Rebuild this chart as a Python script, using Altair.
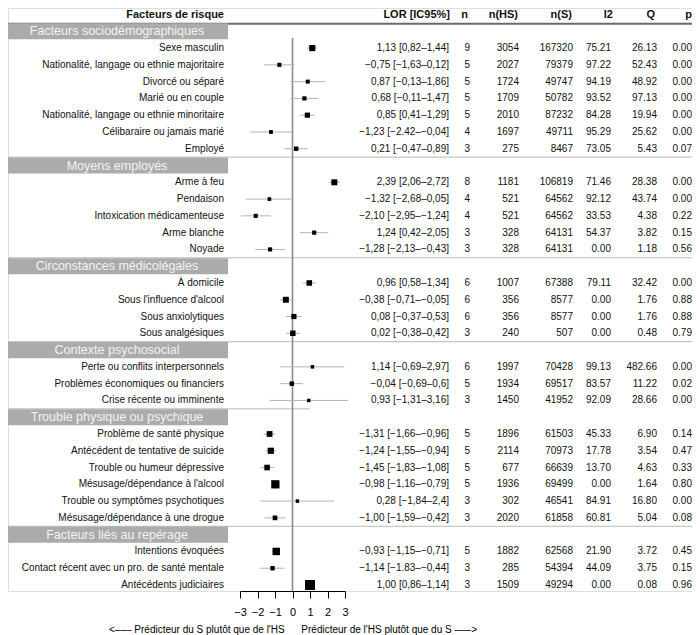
import altair as alt
import pandas as pd

# ---------------- data ----------------
groups = [
    "Facteurs sociodémographiques",
    "Moyens employés",
    "Circonstances médicolégales",
    "Contexte psychosocial",
    "Trouble physique ou psychique",
    "Facteurs liés au repérage",
]
group_sizes = [7, 5, 4, 3, 6, 3]

factors = [
    "Sexe masculin",
    "Nationalité, langage ou ethnie majoritaire",
    "Divorcé ou séparé",
    "Marié ou en couple",
    "Nationalité, langage ou ethnie minoritaire",
    "Célibaraire ou jamais marié",
    "Employé",
    "Arme à feu",
    "Pendaison",
    "Intoxication médicamenteuse",
    "Arme blanche",
    "Noyade",
    "À domicile",
    "Sous l'influence d'alcool",
    "Sous anxiolytiques",
    "Sous analgésiques",
    "Perte ou conflits interpersonnels",
    "Problèmes économiques ou financiers",
    "Crise récente ou imminente",
    "Problème de santé physique",
    "Antécédent de tentative de suicide",
    "Trouble ou humeur dépressive",
    "Mésusage/dépendance à l'alcool",
    "Trouble ou symptômes psychotiques",
    "Mésusage/dépendance à une drogue",
    "Intentions évoquées",
    "Contact récent avec un pro. de santé mentale",
    "Antécédents judiciaires",
]
lor = [1.13, -0.75, 0.87, 0.68, 0.85, -1.23, 0.21,
       2.39, -1.32, -2.10, 1.24, -1.28,
       0.96, -0.38, 0.08, 0.02,
       1.14, -0.04, 0.93,
       -1.31, -1.24, -1.45, -0.98, 0.28, -1.00,
       -0.93, -1.14, 1.00]
lo = [0.82, -1.63, -0.13, -0.11, 0.41, -2.42, -0.47,
      2.06, -2.68, -2.95, 0.42, -2.13,
      0.58, -0.71, -0.37, -0.38,
      -0.69, -0.69, -1.31,
      -1.66, -1.55, -1.83, -1.16, -1.84, -1.59,
      -1.15, -1.83, 0.86]
hi = [1.44, 0.12, 1.86, 1.47, 1.29, -0.04, 0.89,
      2.72, 0.05, -1.24, 2.05, -0.43,
      1.34, -0.05, 0.53, 0.42,
      2.97, 0.60, 3.16,
      -0.96, -0.94, -1.08, -0.79, 2.40, -0.42,
      -0.71, -0.44, 1.14]
lor_text = [
    "1,13 [0,82–1,44]", "−0,75 [−1,63–0,12]", "0,87 [−0,13–1,86]", "0,68 [−0,11–1,47]",
    "0,85 [0,41–1,29]", "−1,23 [−2.42–−0,04]", "0,21 [−0,47–0,89]",
    "2,39 [2,06–2,72]", "−1,32 [−2,68–0,05]", "−2,10 [−2,95–−1,24]", "1,24 [0,42–2,05]",
    "−1,28 [−2,13–−0,43]",
    "0,96 [0,58–1,34]", "−0,38 [−0,71–−0,05]", "0,08 [−0,37–0,53]", "0,02 [−0,38–0,42]",
    "1,14 [−0,69–2,97]", "−0,04 [−0,69–0,6]", "0,93 [−1,31–3,16]",
    "−1,31 [−1,66–−0,96]", "−1,24 [−1,55–−0,94]", "−1,45 [−1,83–−1,08]",
    "−0,98 [−1,16–−0,79]", "0,28 [−1,84–2,4]", "−1,00 [−1,59–−0,42]",
    "−0,93 [−1,15–−0,71]", "−1,14 [−1.83–−0,44]", "1,00 [0,86–1,14]",
]
n_studies = [9, 5, 5, 5, 5, 4, 3, 8, 4, 4, 3, 3, 6, 6, 6, 3, 6, 5, 3, 5, 5, 5, 5, 3, 3, 5, 3, 3]
n_hs = [3054, 2027, 1724, 1709, 2010, 1697, 275, 1181, 521, 521, 328, 328, 1007, 356, 356, 240,
        1997, 1934, 1450, 1896, 2114, 677, 1936, 302, 2020, 1882, 285, 1509]
n_s = [167320, 79379, 49747, 50782, 87232, 49711, 8467, 106819, 64562, 64562, 64131, 64131,
       67388, 8577, 8577, 507, 70428, 69517, 41952, 61503, 70973, 66639, 69499, 46541, 61858,
       62568, 54394, 49294]
i2 = [75.21, 97.22, 94.19, 93.52, 84.28, 95.29, 73.05, 71.46, 92.12, 33.53, 54.37, 0.00,
      79.11, 0.00, 0.00, 0.00, 99.13, 83.57, 92.09, 45.33, 17.78, 13.70, 0.00, 84.91, 60.81,
      21.90, 44.09, 0.00]
q = [26.13, 52.43, 48.92, 97.13, 19.94, 25.62, 5.43, 28.38, 43.74, 4.38, 3.82, 1.18,
     32.42, 1.76, 1.76, 0.48, 482.66, 11.22, 28.66, 6.90, 3.54, 4.63, 1.64, 16.80, 5.04,
     3.72, 3.75, 0.08]
p = [0.00, 0.00, 0.00, 0.00, 0.00, 0.00, 0.07, 0.00, 0.00, 0.22, 0.15, 0.56,
     0.00, 0.88, 0.88, 0.79, 0.00, 0.02, 0.00, 0.14, 0.47, 0.33, 0.80, 0.00, 0.08,
     0.45, 0.15, 0.96]

headers = ["Facteurs de risque", "LOR [IC95%]", "n", "n(HS)", "n(S)", "I2", "Q", "p"]
x_ticks = [-3, -2, -1, 0, 1, 2, 3]
caption = ("<––– Prédicteur du S plutôt que de l'HS" + "\u00a0" * 6 +
           "Prédicteur de l'HS plutôt que du S –––>")

# ---------------- build tables ----------------
item_rows, group_rows = [], []
r = 1
for g, size in zip(groups, group_sizes):
    group_rows.append(r)
    r += 1
    for _ in range(size):
        item_rows.append(r)
        r += 1
last_row = r - 1

items = pd.DataFrame({
    "row": item_rows, "factor": factors, "lor": lor, "lo": lo, "hi": hi,
    "lor_text": lor_text,
    "n": [str(v) for v in n_studies],
    "nhs": [str(v) for v in n_hs],
    "ns": [str(v) for v in n_s],
    "i2": [f"{v:.2f}" for v in i2],
    "q": [f"{v:.2f}" for v in q],
    "p": [f"{v:.2f}" for v in p],
})
# box area grows with precision (derived from CI width)
items["size"] = [(3.0 + 1.95 / (h - l)) ** 2 for l, h in zip(lo, hi)]

grp = pd.DataFrame({"row": group_rows, "group": groups})
grp["y1"] = grp["row"] - 0.48
grp["y2"] = grp["row"] + 0.48

sep_full = pd.DataFrame({"y": [group_rows[i] - 0.5 for i in (1, 2, 3, 5)]})
sep_part = pd.DataFrame({"y": [group_rows[4] - 0.5]})
head_line = pd.DataFrame({"y": [0.55]})

W, H = 684, 583
yscale = alt.Scale(domain=[0, last_row], range=[6.5, 577], nice=False, zero=False)
xscale = alt.Scale(domain=[-3, 3], range=[232, 337], nice=False, zero=False)
xaxis = alt.Axis(values=x_ticks, grid=False, domainColor="black", tickColor="black",
                 tickSize=7, labelFontSize=11, labelPadding=8, labelColor="black",
                 labelOverlap=False, labelFlush=False,
                 title=caption, titleFontSize=10, titleFontWeight="normal",
                 titlePadding=7, titleColor="black", domainWidth=1, tickWidth=1,
                 labelFont="Liberation Sans", titleFont="Liberation Sans")
Y = lambda f: alt.Y(f, type="quantitative", scale=yscale, axis=None)

base_items = alt.Chart(items)
layers = []

# header texts
hdr_x = [216, 442, 460, 510, 564, 605, 647, 684]
hdr = pd.DataFrame({"label": headers, "row": [0] * len(headers)})
for lab, px in zip(headers, hdr_x):
    layers.append(
        alt.Chart(hdr[hdr["label"] == lab]).mark_text(
            align="right", baseline="middle", fontSize=11, fontWeight="bold",
            color="#111", font="Liberation Sans"
        ).encode(x=alt.value(px), y=Y("row"), text="label:N")
    )

# header line
layers.append(
    alt.Chart(head_line).mark_rule(color="#6a6a6a", strokeWidth=2.2).encode(
        x=alt.value(0), x2=alt.value(684), y=Y("y"))
)
# separators
layers.append(
    alt.Chart(sep_full).mark_rule(color="#b9b9b9", strokeWidth=1).encode(
        x=alt.value(0), x2=alt.value(684), y=Y("y"))
)
layers.append(
    alt.Chart(sep_part).mark_rule(color="#b9b9b9", strokeWidth=1).encode(
        x=alt.value(0), x2=alt.value(302), y=Y("y"))
)

# group boxes
layers.append(
    alt.Chart(grp).mark_rect(color="#ababab").encode(
        x=alt.value(0), x2=alt.value(220), y=Y("y1"), y2=alt.Y2("y2"))
)
layers.append(
    alt.Chart(grp).mark_text(align="center", baseline="middle", fontSize=12.5,
                             color="#f4f4f4", font="Liberation Sans").encode(
        x=alt.value(109), y=Y("row"), text="group:N")
)

# factor labels and columns
col_specs = [("factor", 216), ("lor_text", 441), ("n", 462), ("nhs", 511),
             ("ns", 565), ("i2", 603), ("q", 649), ("p", 684)]
for field, px in col_specs:
    layers.append(
        base_items.mark_text(align="right", baseline="middle", fontSize=10,
                             color="#111", font="Liberation Sans").encode(
            x=alt.value(px), y=Y("row"), text=f"{field}:N")
    )

# zero line
layers.append(
    alt.Chart(pd.DataFrame({"z": [0]})).mark_rule(color="#8a8a8a", strokeWidth=1.6).encode(
        x=alt.X("z:Q", scale=xscale, axis=xaxis), y=alt.value(30), y2=alt.value(H))
)
# CI lines
layers.append(
    base_items.mark_rule(color="#b3b3b3", strokeWidth=1).encode(
        x=alt.X("lo:Q", scale=xscale, axis=xaxis), x2="hi:Q", y=Y("row"))
)
# boxes
layers.append(
    base_items.mark_square(color="black", opacity=1, filled=True).encode(
        x=alt.X("lor:Q", scale=xscale, axis=xaxis), y=Y("row"),
        size=alt.Size("size:Q", scale=None, legend=None))
)

chart = alt.layer(*layers).properties(
    width=W, height=H,
    autosize=alt.AutoSizeParams(type="none"),
    padding={"left": 0, "top": 0, "right": 0, "bottom": 44},
).configure_view(stroke=None).configure(font="Liberation Sans")

chart.save("out.html", embed_options={"renderer": "svg", "actions": False})
